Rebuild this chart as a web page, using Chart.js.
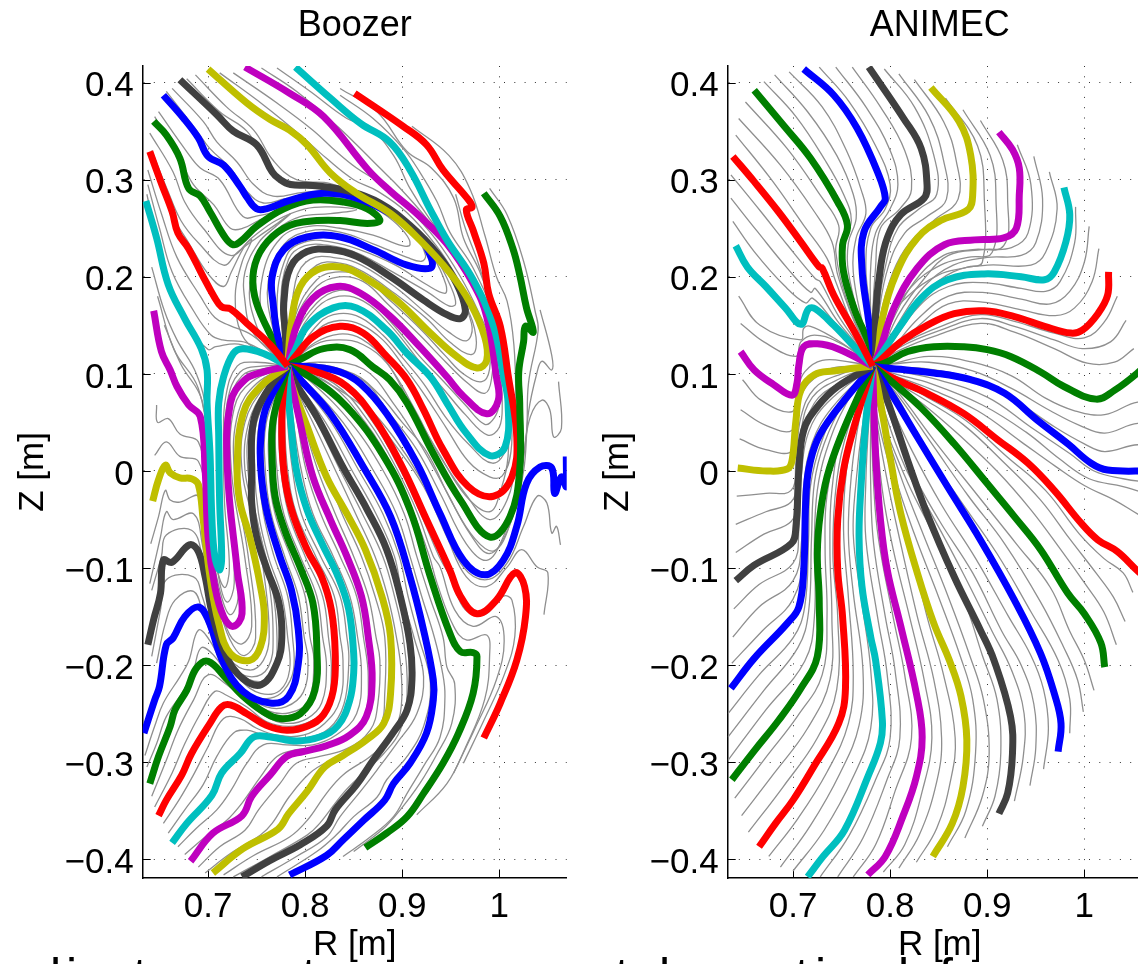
<!DOCTYPE html>
<html>
<head>
<meta charset="utf-8">
<script src="https://cdn.jsdelivr.net/npm/chart.js@4/dist/chart.umd.min.js"></script>
<style>
html, body { margin: 0; background: #fff; width: 1138px; height: 964px; overflow: hidden; }
.panel { position: absolute; top: 0; width: 600px; height: 964px; }
.cut { position: absolute; top: 951px; font: 50px/1 "Liberation Sans", sans-serif; color: #000; }
</style>
</head>
<body>
<div class="panel" style="left:0"><canvas id="boozer" width="600" height="964"></canvas></div>
<div class="panel" style="left:585px"><canvas id="animec" width="600" height="964"></canvas></div>
<!-- tops of the next text line, cut off by the page edge -->
<span class="cut" style="left:50px">l</span><span class="cut" style="left:66px">i</span>
<span class="cut" style="left:133px">t</span><span class="cut" style="left:302px">t</span>
<span class="cut" style="left:615px">t</span><span class="cut" style="left:659px">l</span>
<span class="cut" style="left:795px">t</span><span class="cut" style="left:815px">i</span>
<span class="cut" style="left:898px">l</span><span class="cut" style="left:939px">f</span>
<script>
// field lines, flat R,Z pairs in millimetres
const rTicks = [0.7, 0.8, 0.9, 1];
const rLabels = ['0.7', '0.8', '0.9', '1'];
const zTicks = [-0.4, -0.3, -0.2, -0.1, 0, 0.1, 0.2, 0.3, 0.4];
const zLabels = ['\u22120.4', '\u22120.3', '\u22120.2', '\u22120.1', '0', '0.1', '0.2', '0.3', '0.4'];

const BLUE = '#0000ff', GREEN = '#007f00', RED = '#ff0000', CYAN = '#00bfbf',
      MAGENTA = '#bf00bf', OLIVE = '#bfbf00', DARK = '#404040', THIN = '#8f8f8f';

const boozerColors = [RED, CYAN, MAGENTA, OLIVE, DARK, BLUE, GREEN, RED, CYAN, MAGENTA, OLIVE, DARK, BLUE, GREEN,
                      RED, BLUE, GREEN, RED, CYAN, MAGENTA, OLIVE, DARK, BLUE, GREEN];
const boozerLines = [
  [640,329,652,296,663,267,669,245,680,229,694,202,706,180,714,169,723,167,740,152,764,130,782,108],
  [636,278,647,240,659,192,676,157,693,126,699,104,699,70,702,18,704,-50,707,-88,712,-102,714,-88,712,-33,711,35,711,70,716,97,726,121,736,126,757,121,782,108],
  [644,165,652,123,661,104,668,87,680,68,692,56,697,1,700,-68,707,-119,716,-150,726,-160,735,-147,730,-102,720,1,723,70,738,94,757,102,782,108],
  [643,-31,649,-9,656,6,661,-2,671,-7,683,-8,690,-14,695,-50,702,-109,711,-157,723,-188,743,-195,754,-181,758,-150,754,-119,743,-68,733,-33,730,1,736,59,754,87,782,108],
  [638,-179,644,-153,651,-126,654,-92,663,-94,681,-76,690,-83,697,-109,705,-150,719,-191,736,-214,755,-220,771,-198,776,-171,773,-136,761,-102,750,-68,745,-33,745,1,745,35,749,59,764,87,782,108],
  [634,-270,645,-236,650,-222,657,-179,664,-172,676,-150,690,-140,700,-153,716,-198,736,-227,764,-239,783,-232,793,-198,793,-164,786,-123,774,-88,761,-44,755,-6,754,28,759,63,776,97,782,108],
  [640,-322,649,-294,661,-263,666,-246,678,-226,688,-203,700,-196,719,-214,736,-232,757,-248,774,-255,795,-250,810,-226,812,-181,808,-136,796,-102,779,-61,769,-26,766,15,767,52,778,94,782,108],
  [649,-355,657,-339,673,-313,683,-291,702,-260,714,-243,723,-241,740,-250,760,-262,781,-267,802,-263,819,-251,829,-226,831,-188,827,-143,817,-109,802,-81,786,-40,778,1,776,52,779,97,782,108],
  [663,-383,678,-363,704,-334,714,-311,733,-291,747,-274,764,-274,791,-278,815,-274,834,-262,846,-236,850,-208,850,-188,845,-143,834,-109,817,-74,802,-40,791,1,785,52,782,87,782,108],
  [682,-402,705,-373,735,-355,745,-335,764,-313,781,-294,798,-289,822,-283,846,-272,863,-253,869,-215,865,-171,858,-129,843,-88,826,-50,808,-6,795,49,785,94,782,108],
  [705,-414,736,-389,772,-369,783,-353,802,-330,820,-305,839,-293,863,-277,881,-260,888,-229,888,-171,879,-129,862,-81,843,-44,822,-6,802,46,786,90,782,108],
  [735,-418,764,-401,795,-385,822,-366,831,-349,853,-323,870,-298,891,-269,905,-246,910,-215,908,-178,898,-129,884,-81,864,-40,839,4,812,56,788,94,782,108],
  [784,-416,822,-396,839,-380,860,-360,882,-339,891,-322,908,-301,925,-270,932,-236,932,-215,922,-164,908,-109,888,-47,860,4,826,59,795,94,782,108],
  [862,-388,884,-373,905,-356,922,-332,942,-301,958,-270,973,-229,977,-191,973,-187,960,-186,949,-167,929,-109,908,-40,881,15,843,66,805,97,782,108],
  [984,-275,1001,-239,1018,-195,1027,-150,1026,-119,1016,-105,997,-133,977,-147,960,-129,949,-102,925,-50,898,8,870,56,843,87,812,102,782,108],
  [1069,15,1069,-16,1064,-6,1057,-23,1054,3,1042,4,1028,-13,1018,-57,1004,-92,985,-107,963,-92,939,-44,915,8,884,59,857,90,836,102,810,107,782,108],
  [984,286,1001,262,1014,229,1021,202,1028,168,1035,143,1027,149,1025,133,1020,102,1021,70,1021,1,1011,-47,990,-68,960,-30,932,18,905,70,887,94,870,107,846,125,819,126,795,115,782,108],
  [851,389,901,355,925,336,942,310,966,282,972,272,966,269,973,248,984,214,989,183,1001,149,1009,99,1018,35,1013,-6,994,-26,968,-16,942,22,922,63,905,94,884,118,860,142,836,149,808,138,790,118,782,108],
  [790,416,826,384,857,358,887,339,908,310,929,269,946,238,973,197,994,149,1004,99,1009,70,1006,25,990,16,966,39,946,70,929,97,905,121,884,145,853,168,829,168,802,149,790,125,782,108],
  [738,416,784,389,819,365,865,310,888,288,915,265,946,234,973,193,987,159,997,97,999,73,987,59,963,77,946,97,918,128,888,159,857,183,833,190,808,178,791,149,782,108],
  [700,414,740,379,764,362,784,351,802,336,826,307,853,286,888,265,918,238,949,204,970,173,985,138,987,114,977,106,956,118,929,142,894,176,860,200,836,210,812,207,795,190,786,155,782,108],
  [671,403,709,367,726,350,750,336,766,308,773,301,785,295,808,294,846,288,877,276,908,253,936,224,956,193,965,166,960,157,946,161,922,176,888,200,853,221,826,228,802,226,785,210,778,173,779,149,782,108],
  [654,387,675,363,690,343,700,324,716,315,733,293,740,282,750,270,760,270,785,279,819,286,853,281,888,265,915,245,930,219,929,209,905,212,870,228,836,241,802,241,778,228,766,200,767,173,772,138,782,108],
  [644,360,657,346,671,322,680,291,692,283,702,267,718,240,726,233,733,236,750,252,778,270,808,279,839,277,864,270,877,258,864,255,836,258,802,257,778,250,757,231,747,207,748,180,760,149,782,108]
];
const boozerThin = [
  [640,348,664,308,676,277,695,250,723,222,745,240,770,258,800,270,826,272,853,269,826,265,795,262,770,248,752,225,743,190,745,165,760,130,782,108],
  [642,330,658,290,672,258,690,235,716,212,730,225,750,240,770,254,785,265,770,252,752,235,738,205,738,175,745,145,765,122,782,108],
  [646,310,664,262,680,235,700,203,716,190,724,205,738,232,745,238,735,215,728,180,735,140,755,122,782,108],
  [638,310,652,265,668,220,692,180,707,158,722,150,745,140,782,108],
  [638,295,650,250,663,205,685,165,703,140,715,135,740,132,782,108],
  [637,285,648,235,660,190,680,150,700,125,708,128,735,130,782,108],
  [642,210,655,165,668,135,688,100,698,60,702,-30,708,-95,717,-120,722,-100,717,-33,716,30,718,75,730,108,750,112,782,108],
  [648,180,665,125,690,85,700,20,705,-60,712,-115,720,-135,727,-115,722,-33,718,25,720,72,733,102,755,108,782,108],
  [655,150,672,110,694,72,700,0,705,-85,714,-130,723,-148,731,-130,726,-50,719,20,722,70,735,98,755,105,782,108],
  [647,68,648,50,659,54,671,38,690,30,696,-10,702,-70,710,-130,722,-168,735,-178,745,-160,738,-90,724,1,727,65,745,92,782,108],
  [645,16,657,30,671,15,690,10,697,-30,704,-100,714,-150,726,-180,738,-190,749,-172,741,-85,727,1,731,60,750,90,782,108],
  [641,-75,649,-47,656,-20,661,-30,671,-32,690,-26,694,-68,700,-109,709,-157,723,-194,743,-205,757,-195,763,-171,758,-109,748,-57,735,1,738,50,757,85,782,108],
  [640,-116,651,-68,657,-42,664,-50,685,-44,694,-75,700,-116,712,-171,726,-202,745,-212,762,-202,767,-171,762,-109,750,-50,738,1,742,50,760,85,782,108],
  [642,-123,652,-88,657,-66,683,-61,694,-88,702,-136,716,-177,733,-208,754,-217,767,-207,771,-171,766,-119,752,-57,741,1,744,50,763,87,782,108],
  [642,-191,651,-143,657,-112,685,-109,694,-129,702,-157,714,-191,733,-215,754,-229,774,-226,784,-205,782,-171,776,-129,762,-88,752,-44,748,1,750,50,770,90,782,108],
  [647,-198,656,-157,666,-133,685,-124,695,-147,707,-177,723,-208,743,-232,764,-234,778,-226,788,-205,787,-171,782,-129,768,-88,757,-44,752,1,753,50,771,90,782,108],
  [635,-293,645,-263,654,-239,671,-212,680,-196,690,-164,702,-175,718,-206,736,-229,760,-243,780,-243,798,-228,803,-195,799,-171,793,-129,779,-88,765,-44,759,1,760,50,775,90,782,108],
  [637,-305,647,-281,657,-253,675,-226,685,-205,693,-182,706,-190,720,-210,738,-231,762,-247,784,-249,803,-237,809,-195,805,-171,800,-129,785,-88,769,-44,763,1,764,50,776,90,782,108],
  [642,-335,657,-298,669,-267,685,-236,700,-210,719,-220,740,-238,760,-253,781,-260,802,-255,817,-239,822,-202,818,-171,812,-129,795,-88,778,-44,771,1,770,50,778,90,782,108],
  [645,-346,663,-311,676,-281,692,-250,707,-227,719,-231,740,-243,760,-258,783,-263,805,-258,822,-245,827,-205,824,-171,818,-129,800,-88,783,-44,775,1,773,50,779,90,782,108],
  [654,-363,670,-339,685,-313,700,-284,716,-255,733,-255,750,-265,771,-272,798,-272,820,-260,836,-236,839,-195,836,-171,830,-129,811,-88,791,-44,782,1,779,50,780,90,782,108],
  [659,-373,676,-349,695,-323,709,-294,726,-270,740,-267,757,-272,774,-274,800,-275,825,-265,840,-240,845,-195,843,-171,836,-129,816,-88,796,-44,787,1,782,50,781,90,782,108],
  [669,-387,688,-368,709,-349,723,-330,740,-301,757,-282,781,-282,808,-282,832,-272,853,-250,858,-208,854,-171,846,-129,829,-88,808,-44,796,1,788,50,783,90,782,108],
  [676,-395,697,-377,719,-360,735,-342,754,-315,771,-294,791,-287,815,-285,839,-277,860,-257,865,-212,860,-171,853,-129,836,-88,816,-44,801,1,792,50,785,90,782,108],
  [690,-408,712,-387,738,-370,752,-349,774,-322,791,-301,815,-294,843,-286,867,-267,875,-239,877,-195,873,-171,865,-129,850,-88,831,-44,813,1,798,50,786,90,782,108],
  [697,-414,723,-394,754,-375,766,-363,784,-335,805,-311,826,-298,853,-286,877,-263,882,-229,882,-171,872,-129,858,-88,838,-44,820,1,801,50,787,90,782,108],
  [716,-416,747,-396,784,-377,802,-360,822,-332,839,-313,867,-294,887,-275,898,-250,899,-208,894,-171,885,-129,872,-88,852,-44,831,1,808,50,788,90,782,108],
  [726,-418,764,-397,802,-375,815,-363,839,-332,860,-311,881,-291,898,-267,905,-229,901,-171,892,-129,880,-88,859,-44,836,1,812,50,789,90,782,108],
  [755,-418,791,-397,822,-377,836,-356,857,-330,874,-308,894,-281,915,-250,922,-212,912,-171,900,-129,892,-88,873,-44,848,1,821,50,793,90,782,108],
  [771,-418,812,-392,832,-375,850,-356,874,-336,884,-318,905,-294,922,-263,929,-219,917,-171,906,-129,897,-88,880,-44,855,1,827,50,796,90,782,108],
  [839,-397,867,-377,891,-356,905,-332,922,-304,939,-274,944,-232,941,-205,933,-171,920,-129,908,-88,894,-44,870,1,839,50,803,90,782,108],
  [850,-392,881,-368,898,-349,918,-322,935,-293,951,-260,954,-219,946,-202,942,-171,928,-129,915,-88,902,-44,880,1,847,50,808,90,782,108],
  [915,-354,946,-322,965,-285,985,-235,990,-190,987,-169,966,-174,953,-160,936,-116,928,-88,912,-44,892,1,862,50,825,90,782,108],
  [953,-311,975,-265,997,-215,1005,-175,997,-150,973,-160,954,-143,939,-99,932,-88,916,-44,895,1,866,50,830,90,782,108],
  [963,-301,985,-255,1005,-210,1016,-170,1013,-133,1004,-129,985,-148,965,-143,950,-110,938,-88,919,-44,898,1,870,50,835,90,782,108],
  [1046,-148,1050,-105,1039,-99,1023,-81,1008,-99,987,-119,966,-109,946,-68,922,-16,894,25,863,63,836,83,805,100,782,108],
  [1063,-76,1059,-57,1054,-64,1049,-33,1039,-26,1025,-57,1008,-95,987,-112,963,-99,942,-54,918,-6,891,35,863,68,836,90,805,103,782,108],
  [1061,92,1064,44,1056,35,1052,63,1044,73,1032,56,1025,18,1014,-33,1004,-68,987,-92,966,-75,939,-23,915,22,887,59,857,95,810,106,782,108],
  [1042,166,1054,119,1054,104,1044,113,1039,102,1030,60,1025,0,1012,-52,995,-82,975,-70,950,-30,925,20,900,50,875,80,850,100,810,110,782,108],
  [990,291,1008,264,1025,216,1037,164,1040,145,1030,90,1028,40,1020,-20,1008,-62,990,-85,970,-65,945,-20,920,25,892,68,860,105,815,112,782,108],
  [910,355,948,325,970,290,985,243,997,200,1008,175,1015,130,1017,70,1016,10,1008,-30,990,-50,964,-22,936,20,912,65,885,110,860,130,835,135,810,130,782,108],
  [955,285,965,250,978,215,990,175,1003,130,1009,70,1009,15,1002,-18,990,-42,965,-25,938,18,910,65,884,112,858,136,835,141,810,132,782,108],
  [836,394,874,370,905,329,930,312,953,281,963,240,980,205,997,154,1006,99,1012,60,1012,20,1003,-5,990,-6,968,10,945,45,922,80,900,110,880,135,857,151,835,155,815,147,782,108],
  [836,387,870,363,901,332,918,308,936,277,949,246,973,209,996,154,1005,99,1008,55,1008,25,993,8,968,28,945,55,922,90,900,117,880,140,857,158,835,162,815,153,782,108],
  [771,415,805,391,843,363,867,353,891,325,908,291,928,260,953,229,978,188,996,143,1001,99,1003,70,1000,45,988,37,965,58,942,85,920,110,888,150,860,175,835,180,812,168,790,135,782,108],
  [755,415,791,391,832,356,853,336,877,312,898,291,922,264,949,229,977,188,990,147,999,99,1000,70,995,55,985,48,965,68,940,95,918,118,885,157,860,180,835,186,812,173,790,140,782,108],
  [726,410,771,379,808,351,832,329,853,312,878,296,905,272,935,238,960,200,978,165,992,130,992,95,985,80,968,90,945,112,918,140,885,172,860,195,835,200,812,190,790,155,782,108],
  [712,410,757,377,795,346,822,322,850,300,875,288,905,266,935,232,958,197,975,165,988,128,990,105,982,92,963,100,945,118,920,145,885,178,860,200,835,205,812,197,790,160,782,108],
  [687,408,719,375,747,351,767,320,791,300,826,296,860,282,885,266,915,243,945,208,965,172,976,138,972,120,950,132,925,157,892,183,860,205,836,214,812,212,792,185,782,108],
  [678,404,712,370,740,350,760,318,781,298,812,293,850,287,880,271,912,247,942,214,961,178,972,148,966,134,948,143,924,163,892,190,858,212,836,219,805,218,790,195,782,108],
  [663,394,695,360,709,339,730,318,747,295,767,283,798,287,836,288,880,273,908,250,934,220,950,190,955,172,948,170,925,185,890,205,855,224,826,232,800,232,783,218,775,170,782,108],
  [657,391,688,351,702,332,723,312,740,288,757,276,784,281,857,279,882,270,908,248,932,220,945,192,944,183,925,192,893,212,856,228,826,236,800,236,781,222,771,165,782,108],
  [649,370,678,329,692,312,712,300,736,262,752,263,772,268,800,278,835,282,860,278,890,263,912,245,924,222,920,216,905,220,870,234,836,246,804,247,778,233,762,195,766,150,782,108],
  [645,365,671,322,685,295,706,274,723,250,736,250,752,258,776,268,805,277,838,280,862,275,885,262,903,245,908,233,900,232,870,243,836,250,804,252,775,240,756,200,758,150,782,108]
];

const animecColors = [RED, CYAN, MAGENTA, OLIVE, DARK, BLUE, GREEN, RED, CYAN, MAGENTA, OLIVE, DARK, BLUE, GREEN,
                      RED, BLUE, GREEN, RED, CYAN, MAGENTA, OLIVE, DARK, BLUE, GREEN];
const animecLines = [
  [638,324,660,298,685,267,708,236,727,210,730,209,742,181,763,144,782,108],
  [641,232,653,210,672,190,692,168,708,151,716,167,723,167,742,150,763,128,782,108],
  [646,123,660,104,680,89,699,78,704,90,706,109,711,128,725,131,746,126,782,108],
  [643,3,673,0,694,2,699,11,703,52,708,83,722,99,742,103,782,108],
  [641,-113,660,-97,698,-75,703,-57,706,1,711,42,725,66,746,87,782,108],
  [636,-224,660,-193,694,-157,706,-140,711,-102,713,-33,716,1,725,32,742,59,782,108],
  [637,-318,661,-287,685,-257,708,-224,725,-191,727,-136,725,-85,728,-44,735,-6,749,35,770,83,782,108],
  [665,-387,682,-363,700,-339,721,-305,747,-260,754,-224,751,-150,746,-102,746,-50,752,1,763,46,782,108],
  [715,-418,731,-397,753,-370,777,-315,790,-280,792,-257,785,-195,780,-171,771,-119,768,-68,770,-16,775,52,782,108],
  [777,-416,795,-397,813,-356,827,-315,833,-274,827,-229,811,-160,797,-102,790,-50,785,18,782,108],
  [844,-397,864,-363,875,-325,879,-277,873,-232,861,-195,845,-157,828,-105,811,-44,801,8,787,87,782,108],
  [912,-353,921,-332,926,-291,924,-253,907,-195,893,-164,866,-109,838,-44,818,11,797,73,782,108],
  [973,-289,976,-260,969,-229,955,-188,928,-133,893,-71,859,-16,828,35,801,80,782,108],
  [1021,-202,1017,-177,1000,-147,983,-126,955,-81,928,-47,900,-13,866,28,832,65,804,90,782,108],
  [1070,-115,1056,-104,1034,-83,1014,-71,997,-54,969,-20,942,8,911,32,876,59,838,80,804,95,782,108],
  [1069,0,1024,1,1007,8,983,28,952,52,918,80,883,94,845,101,797,106,782,108],
  [1069,115,1056,102,1031,83,1012,74,979,87,955,102,924,118,900,125,876,128,845,128,818,123,794,111,782,108],
  [1025,205,1024,181,1014,162,998,145,986,142,959,149,928,159,897,165,866,162,838,150,811,133,790,114,782,108],
  [979,292,985,264,981,236,969,205,959,197,935,200,897,203,859,197,832,178,811,150,790,119,782,108],
  [912,349,926,331,933,312,933,284,930,250,917,240,887,238,856,233,828,209,804,168,789,123,782,108],
  [842,395,871,360,883,325,885,284,880,269,852,258,828,240,807,205,792,157,787,119,782,108],
  [778,416,814,363,832,332,838,295,835,281,811,264,797,240,790,209,785,161,785,119,782,108],
  [711,414,742,387,766,353,787,308,795,281,790,272,773,246,771,209,777,161,783,119,782,108],
  [660,392,691,355,718,322,746,277,756,253,751,233,752,205,763,167,780,126,782,108]
];
const animecThin = [
  [636,305,667,267,694,233,723,198,728,195,746,161,770,126,782,108],
  [636,281,663,247,694,209,718,184,723,188,746,154,770,125,782,108],
  [638,257,660,226,691,191,713,173,720,178,742,154,770,121,782,108],
  [651,380,694,332,728,284,747,253,744,226,756,174,776,126,782,108],
  [644,363,687,315,722,267,740,236,746,202,763,154,780,121,782,108],
  [641,346,677,301,711,253,735,219,744,195,763,147,782,119,782,108],
  [644,180,666,150,708,135,711,147,718,149,742,137,763,123,782,108],
  [646,152,670,133,703,118,708,133,722,140,746,133,770,118,782,108],
  [648,94,667,73,699,61,704,82,712,102,730,114,760,112,782,108],
  [646,63,672,47,699,42,704,72,716,94,740,106,782,108],
  [645,33,672,22,699,21,703,60,716,90,742,104,782,108],
  [642,-26,672,-23,698,-20,703,10,708,55,722,85,750,100,782,108],
  [641,-55,672,-42,698,-32,704,-10,708,40,720,76,750,96,782,108],
  [641,-84,670,-65,698,-52,704,-30,707,25,722,70,750,92,782,108],
  [639,-142,665,-117,700,-95,706,-60,709,0,716,40,735,70,782,108],
  [638,-171,665,-140,700,-113,709,-70,711,-15,720,30,740,65,782,108],
  [637,-198,668,-165,700,-132,711,-85,712,-25,722,28,742,62,782,108],
  [633,-250,665,-210,700,-172,712,-140,716,-70,718,-15,730,32,750,72,782,108],
  [633,-274,670,-226,705,-182,716,-145,719,-70,722,-12,732,28,752,70,782,108],
  [633,-298,672,-246,712,-196,722,-150,722,-70,725,-20,734,20,754,68,782,108],
  [640,-337,672,-295,705,-252,730,-210,735,-150,733,-80,735,-25,750,40,782,108],
  [647,-355,680,-312,715,-265,738,-215,740,-150,738,-80,740,-20,752,45,782,108],
  [654,-372,690,-325,725,-275,745,-225,746,-150,741,-85,745,-10,757,45,782,108],
  [675,-397,705,-358,735,-310,757,-260,762,-210,757,-130,752,-60,755,0,765,50,782,108],
  [687,-408,718,-365,748,-312,768,-262,772,-205,762,-125,757,-65,760,-5,768,52,782,108],
  [700,-412,732,-370,762,-315,780,-265,780,-205,770,-130,762,-65,765,-10,772,50,782,108],
  [728,-418,758,-375,785,-318,800,-275,797,-210,787,-150,775,-70,775,-10,778,50,782,108],
  [746,-418,772,-378,796,-320,810,-275,805,-205,795,-150,783,-75,780,-15,780,50,782,108],
  [762,-418,785,-385,805,-330,822,-275,815,-210,803,-150,788,-70,783,-15,781,50,782,108],
  [793,-413,815,-385,833,-330,843,-275,835,-215,820,-150,803,-80,792,-20,784,60,782,108],
  [809,-409,830,-375,848,-320,853,-275,845,-215,828,-150,812,-80,797,-10,785,60,782,108],
  [827,-403,848,-368,862,-320,867,-275,855,-210,838,-150,820,-75,802,-5,786,60,782,108],
  [859,-387,878,-350,888,-290,885,-235,872,-190,850,-130,825,-65,805,-5,787,70,782,108],
  [877,-378,895,-335,902,-290,896,-235,882,-190,860,-130,832,-60,810,-3,787,70,782,108],
  [895,-366,908,-335,914,-290,910,-235,895,-190,875,-130,842,-60,815,-5,787,70,782,108],
  [928,-340,937,-295,938,-250,925,-205,905,-165,875,-105,843,-45,815,5,790,75,782,108],
  [944,-324,950,-285,948,-240,935,-200,915,-165,885,-105,850,-50,820,5,792,78,782,108],
  [958,-307,963,-265,958,-225,945,-190,922,-150,888,-90,853,-35,822,22,795,80,782,108],
  [985,-270,985,-235,973,-195,945,-145,910,-85,872,-30,838,20,805,80,782,108],
  [999,-248,993,-215,978,-180,955,-135,918,-75,880,-25,845,25,805,82,782,108],
  [1010,-226,1000,-195,985,-165,965,-120,930,-75,890,-25,848,28,805,85,782,108],
  [1033,-179,1020,-145,1000,-115,975,-80,945,-40,910,0,870,38,835,68,805,90,782,108],
  [1042,-155,1030,-130,1012,-105,985,-70,955,-30,918,8,875,48,838,72,805,92,782,108],
  [1050,-125,1040,-105,1020,-90,995,-65,960,-20,920,15,878,52,838,76,805,94,782,108],
  [1069,-52,1056,-45,1031,-30,1000,-15,970,5,935,30,890,62,840,85,805,98,782,108],
  [1069,-25,1040,-16,1005,-8,975,12,940,40,895,68,842,90,805,100,782,108],
  [1069,-12,1040,-8,1010,0,985,18,945,45,900,76,845,95,805,103,782,108],
  [1069,22,1055,27,1021,20,1000,28,970,45,925,75,885,95,840,105,800,107,782,108],
  [1069,42,1055,49,1021,39,995,47,965,62,925,85,885,103,840,112,800,110,782,108],
  [1069,65,1055,71,1021,58,990,62,960,75,925,98,885,112,840,118,800,110,782,108],
  [1051,126,1031,112,1003,111,969,126,928,143,893,152,849,140,811,125,782,108],
  [1043,155,1027,133,998,126,969,135,928,149,893,157,852,145,811,128,782,108],
  [1034,180,1021,154,1000,137,969,142,928,154,893,161,855,150,811,130,782,108],
  [1015,229,1008,195,990,168,970,160,935,166,895,174,860,172,830,150,800,120,782,108],
  [1005,252,1000,215,985,185,965,172,935,177,895,184,860,180,830,158,800,124,782,108],
  [991,272,990,235,975,195,960,185,935,188,895,194,860,190,830,170,800,130,782,108],
  [964,308,972,270,960,225,945,212,900,212,865,205,835,182,808,150,790,118,782,108],
  [948,324,957,280,950,235,935,222,900,220,865,212,835,190,810,155,790,118,782,108],
  [931,336,945,295,942,245,925,230,895,228,860,222,835,198,808,160,790,120,782,108],
  [893,361,916,320,921,280,917,232,885,228,855,222,825,195,800,150,782,108],
  [875,372,903,325,909,280,905,225,880,220,852,212,822,190,797,150,782,108],
  [857,384,890,335,897,280,895,215,880,210,850,202,818,180,795,150,782,108],
  [825,403,855,360,868,320,870,280,845,258,820,235,803,205,790,160,782,108],
  [809,409,840,365,855,320,858,280,838,262,815,245,798,210,788,160,782,108],
  [794,414,825,375,845,325,848,285,830,270,808,250,795,210,787,160,782,108],
  [761,416,790,375,815,330,822,290,810,270,790,250,785,210,782,160,782,108],
  [744,416,775,375,800,330,808,295,800,270,785,245,780,210,780,160,782,108],
  [727,416,758,380,785,335,800,295,795,270,780,250,775,210,780,160,782,108],
  [696,411,730,375,755,330,770,290,775,265,765,240,762,205,772,150,782,108],
  [681,408,715,370,745,325,762,285,765,260,757,235,757,205,770,150,782,108],
  [670,401,703,365,733,320,752,285,760,258,752,232,754,205,768,150,782,108]
];

function toPoints(flat) {
  const pts = [];
  for (let i = 0; i < flat.length; i += 2) {
    pts.push({ x: flat[i] / 1000, y: flat[i + 1] / 1000 });
  }
  return pts;
}

// matlab style inward tick marks and a title centred over the axes
const axesDecor = {
  id: 'axesDecor',
  beforeDatasetsDraw(chart) {
    const { ctx, chartArea, scales } = chart;
    ctx.save();
    ctx.strokeStyle = '#000';
    ctx.lineWidth = 1;
    ctx.beginPath();
    rTicks.forEach(v => {
      const px = Math.round(scales.x.getPixelForValue(v)) + 0.5;
      ctx.moveTo(px, chartArea.bottom);
      ctx.lineTo(px, chartArea.bottom - 8);
    });
    zTicks.forEach(v => {
      const py = Math.round(scales.y.getPixelForValue(v)) + 0.5;
      ctx.moveTo(chartArea.left, py);
      ctx.lineTo(chartArea.left + 8, py);
    });
    ctx.stroke();
    ctx.fillStyle = '#000';
    ctx.font = '36px "Liberation Sans"';
    ctx.textAlign = 'center';
    ctx.textBaseline = 'middle';
    ctx.fillText(chart.options.panelTitle, (chartArea.left + chartArea.right) / 2, 26);
    ctx.restore();
  }
};

function makeChart(id, titleText, lines, colors, thin) {
  const datasets = thin.map(flat => ({
    data: toPoints(flat),
    showLine: true,
    borderColor: THIN,
    borderWidth: 1.3,
    order: 1
  })).concat(lines.map((flat, i) => ({
    data: toPoints(flat),
    showLine: true,
    borderColor: colors[i],
    borderWidth: 7,
    order: 0
  })));
  return new Chart(document.getElementById(id), {
    type: 'scatter',
    data: { datasets },
    plugins: [axesDecor],
    options: {
      panelTitle: titleText,
      responsive: false,
      animation: false,
      layout: { padding: { top: 66, right: 33.3 } },
      elements: {
        point: { radius: 0 },
        line: { tension: 0.4, borderCapStyle: 'butt', borderJoinStyle: 'round' }
      },
      plugins: {
        legend: { display: false },
        tooltip: { enabled: false }
      },
      scales: {
        x: {
          type: 'linear',
          min: 0.6327,
          max: 1.0694,
          afterFit(s) { s.height = 86; },
          afterBuildTicks(s) { s.ticks = rTicks.map(v => ({ value: v })); },
          grid: { color: 'rgba(0,0,0,0.8)', lineWidth: 1, drawTicks: false },
          border: { color: '#000', width: 1.5, dash: [1, 9.3] },
          title: {
            display: true,
            text: 'R [m]',
            color: '#000',
            font: { family: '"Liberation Sans"', size: 35, lineHeight: 1 },
            padding: { top: 0, bottom: 1.5 }
          },
          ticks: {
            color: '#000',
            maxRotation: 0,
            autoSkip: false,
            padding: 8,
            font: { family: '"Liberation Sans"', size: 35 },
            callback(v) { return rLabels[rTicks.indexOf(v)]; }
          }
        },
        y: {
          type: 'linear',
          min: -0.4192,
          max: 0.4171,
          afterFit(s) { s.width = 142.7; },
          afterBuildTicks(s) { s.ticks = zTicks.map(v => ({ value: v })); },
          grid: { color: 'rgba(0,0,0,0.8)', lineWidth: 1, drawTicks: false },
          border: { color: '#000', width: 1.5, dash: [1, 9.3] },
          title: {
            display: true,
            text: 'Z [m]',
            color: '#000',
            font: { family: '"Liberation Sans"', size: 35, lineHeight: 1 },
            padding: { top: 15.5, bottom: 0 }
          },
          ticks: {
            color: '#000',
            autoSkip: false,
            padding: 9,
            labelOffset: 4,
            font: { family: '"Liberation Sans"', size: 35 },
            callback(v) { return zLabels[zTicks.indexOf(v)]; }
          }
        }
      }
    }
  });
}

makeChart('boozer', 'Boozer', boozerLines, boozerColors, boozerThin);
makeChart('animec', 'ANIMEC', animecLines, animecColors, animecThin);
</script>
</body>
</html>
